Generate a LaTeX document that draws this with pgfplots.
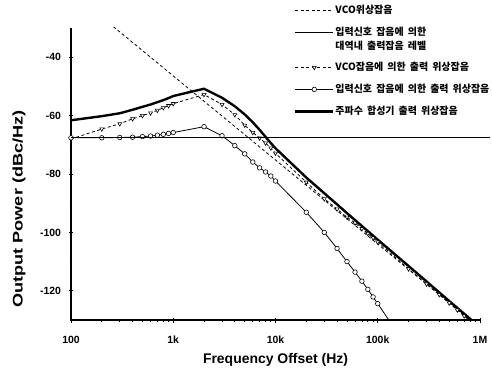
\documentclass[border=0pt]{standalone}
\usepackage{pgfplots}
\pgfplotsset{compat=1.18}
\usepackage{fontspec}
\setmainfont{Liberation Sans}
\newfontfamily\kr{Noto Sans CJK KR}[WordSpace=1.8]
\begin{document}
\begin{tikzpicture}
\begin{axis}[
  scale only axis, width=409bp, height=292bp,
  xmode=log, xmin=100, xmax=1000000, ymin=-130, ymax=-30,
  axis lines=left, axis line style={-, line width=1.2pt},
  xtick={100,1000,10000,100000,1000000},
  xticklabels={100,1k,10k,100k,1M},
  minor xtick={200,300,400,500,600,700,800,900,2000,3000,4000,5000,6000,7000,8000,9000,20000,30000,40000,50000,60000,70000,80000,90000,200000,300000,400000,500000,600000,700000,800000,900000},
  ytick={-120,-100,-80,-60,-40},
  yticklabels={-120,-100,-80,-60,-40},
  minor ytick={-130,-110,-90,-70,-50,-30},
  tick align=center, major tick length=5bp, minor tick length=3bp,
  tick style={line width=0.8pt, black},
  ticklabel style={font=\bfseries\fontsize{10.5}{12}\selectfont},
  xticklabel style={yshift=-10bp},
  yticklabel style={xshift=-4bp},
  xlabel={\bfseries Frequency Offset (Hz)},
  ylabel={\scalebox{1.3}[1]{\bfseries Output Power (dBc/Hz)}},
  label style={font=\bfseries\fontsize{14}{16}\selectfont},
  xlabel style={at={(axis description cs:0.5,-0.137)}, anchor=center},
  ylabel style={at={(axis description cs:-0.127,0.38)}, anchor=center},
  legend cell align=left,
  legend image code/.code={\draw[mark repeat=2,mark phase=2,#1] plot coordinates {(0bp,0bp) (19bp,0bp) (38bp,0bp)};},
  legend style={at={(axis description cs:0.545,1.082)}, anchor=north west,
    draw=none, fill=none, inner sep=0pt, row sep=10bp, column sep=0bp,
    nodes={inner sep=1bp},
    font=\kr\bfseries\fontsize{10}{11}\selectfont},
]
\coordinate (O) at (rel axis cs:0,0);
% VCO free-running phase noise
\addplot[black, line width=0.8pt, dash pattern=on 3bp off 2.5bp] coordinates {(100,-17.6) (1000000,-132.8)};
\addlegendentry{VCO위상잡음}
% legend image of the in-band output noise level (the line itself is drawn by the second axis)
\addlegendimage{black, line width=1.1pt}
\addlegendentry{입력신호 잡음에 의한}
\addlegendimage{empty legend}
\addlegendentry{\raisebox{0pt}[0pt][2bp]{대역내 출력잡음 레벨}}
% VCO-induced output phase noise
\addplot[black, line width=0.8pt, dash pattern=on 3bp off 2.5bp, mark=triangle*, mark size=2.3bp, mark options={solid, fill=white, rotate=180, line width=0.6pt}] coordinates {
(100,-68.0) (200,-64.6) (300,-62.8) (400,-61.1) (500,-60.0) (600,-59.1) (700,-58.2) (800,-57.3) (900,-56.6)
(1000,-55.9) (2000,-52.8) (3000,-56.2) (4000,-59.7) (5000,-63.3) (6000,-65.8) (7000,-67.7) (8000,-69.4) (9000,-71.1)
(10000,-72.9) (20000,-82.8) (30000,-88.5) (40000,-92.0) (50000,-94.8) (60000,-96.8) (70000,-98.7) (80000,-100.4) (90000,-101.9)
(100000,-103.3) (200000,-112.5) (300000,-117.7) (400000,-121.3) (500000,-124.2) (600000,-126.6) (700000,-128.6) (800000,-130.4) (900000,-131.9)
(1000000,-133.3)};
\addlegendentry{VCO잡음에 의한 출력 위상잡음}
% input-noise-induced output phase noise
\addplot[black, line width=0.8pt, mark=*, mark size=2.3bp, mark options={solid, fill=white, line width=0.6pt}] coordinates {
(100,-67.6) (200,-67.6) (300,-67.5) (400,-67.4) (500,-67.2) (600,-67.0) (700,-66.7) (800,-66.4) (900,-66.1)
(1000,-65.8) (2000,-63.8) (3000,-66.9) (4000,-70.3) (5000,-73.1) (6000,-75.9) (7000,-77.9) (8000,-79.3) (9000,-80.7)
(10000,-82.4) (20000,-93.1) (30000,-100.0) (40000,-105.5) (50000,-110.0) (60000,-113.6) (70000,-116.7) (80000,-119.5) (90000,-122.1)
(100000,-124.4) (200000,-140)};
\addlegendentry{입력신호 잡음에 의한 출력 위상잡음}
% synthesizer output phase noise
\addplot[black, line width=2.4pt] coordinates {
(100,-61.6) (200,-60.2) (300,-59.2) (400,-58.0) (500,-57.0) (600,-56.2) (700,-55.4) (800,-54.7) (900,-54.0)
(1000,-53.3) (2000,-50.8) (3000,-53.9) (4000,-56.8) (5000,-59.6) (6000,-62.3) (7000,-64.9) (8000,-67.3) (9000,-69.4)
(10000,-71.2) (20000,-81.2) (30000,-86.6) (40000,-90.4) (50000,-93.4) (100000,-102.5) (200000,-111.5) (500000,-123.5) (1000000,-132.5)};
\addlegendentry{주파수 합성기 출력 위상잡음}
\end{axis}
% in-band output noise level due to input noise: runs a little past the 1M edge, as in the reference
\begin{axis}[
  scale only axis, width=419bp, height=292bp, hide axis,
  xmode=log, xmin=100, xmax=1252000, ymin=-130, ymax=-30,
]
\addplot[black, line width=1.3pt] coordinates {(100,-67.6) (1252000,-67.6)};
\end{axis}
\pgfresetboundingbox
\path[use as bounding box] (O) ++(-71bp,-51bp) rectangle ++(492bp,371bp);
\end{tikzpicture}
\end{document}
